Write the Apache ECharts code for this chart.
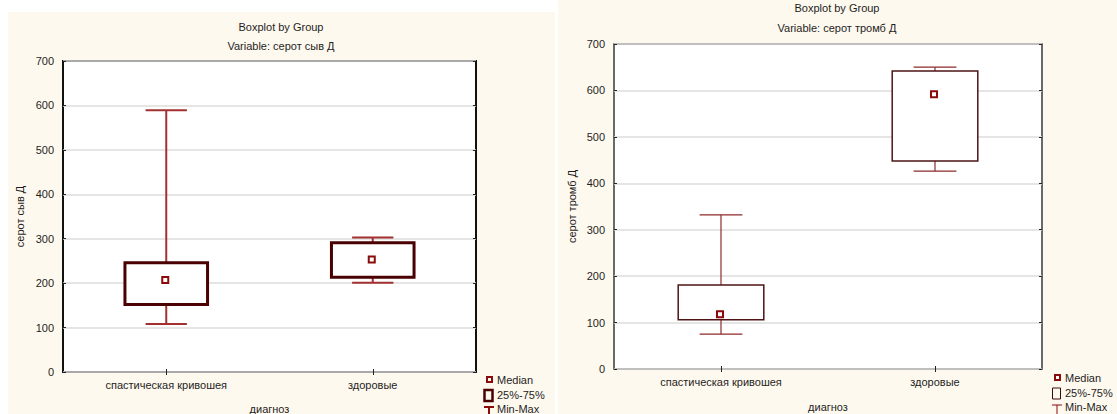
<!DOCTYPE html>
<html>
<head>
<meta charset="utf-8">
<script src="https://cdn.jsdelivr.net/npm/echarts@6/dist/echarts.min.js"></script>
<style>
  html, body { margin: 0; padding: 0; background: #ffffff; }
  #chart { width: 1117px; height: 414px; }
</style>
</head>
<body>
<div id="chart"></div>
<script>
// Groups on the x axis
const categories = ['спастическая кривошея', 'здоровые'];
const yTicks = [0, 100, 200, 300, 400, 500, 600, 700];

// серот сыв Д — min, 25%, median, 75%, max per group
const syvMin = [108, 201];
const syvQ1 = [152, 213];
const syvMedian = [207, 253];
const syvQ3 = [246, 291];
const syvMax = [589, 303];

// серот тромб Д — min, 25%, median, 75%, max per group
const trombMin = [75, 426];
const trombQ1 = [106, 448];
const trombMedian = [118, 592];
const trombQ3 = [181, 642];
const trombMax = [332, 650];

const FONT = '"Liberation Sans", Arial, sans-serif';
const TXT = '#1e1e1e';
const PANEL = '#fef9ee';

function rows(mins, q1s, meds, q3s, maxs) {
  return categories.map((c, i) => [i, mins[i], q1s[i], meds[i], q3s[i], maxs[i]]);
}

// Box = 25%-75%, whiskers = min-max, small square = median
function boxRenderer(st) {
  return function (params, api) {
    const i = api.value(0);
    const pMin = api.coord([i, api.value(1)]);
    const pQ1 = api.coord([i, api.value(2)]);
    const pMed = api.coord([i, api.value(3)]);
    const pQ3 = api.coord([i, api.value(4)]);
    const pMax = api.coord([i, api.value(5)]);
    const band = api.size([1, 0])[0];
    const bw = band * 0.4;
    const cw = band * 0.2;
    const cx = pMin[0];
    const wStyle = { stroke: st.whisker, lineWidth: st.whiskerWidth };
    const m = st.medianSize;
    return {
      type: 'group',
      children: [
        { type: 'line', shape: { x1: cx, y1: pQ3[1], x2: cx, y2: pMax[1] }, style: wStyle },
        { type: 'line', shape: { x1: cx, y1: pQ1[1], x2: cx, y2: pMin[1] }, style: wStyle },
        { type: 'line', shape: { x1: cx - cw / 2, y1: pMax[1], x2: cx + cw / 2, y2: pMax[1] }, style: wStyle },
        { type: 'line', shape: { x1: cx - cw / 2, y1: pMin[1], x2: cx + cw / 2, y2: pMin[1] }, style: wStyle },
        { type: 'rect', shape: { x: cx - bw / 2, y: pQ3[1], width: bw, height: pQ1[1] - pQ3[1] },
          style: { fill: '#ffffff', stroke: st.box, lineWidth: st.boxWidth } },
        { type: 'rect', shape: { x: cx - m / 2 - 1, y: pMed[1] - m / 2, width: m, height: m },
          style: { fill: '#ffffff', stroke: '#8b0a0a', lineWidth: 2 } }
      ]
    };
  };
}

function valueAxis(gridIndex, name, position, show, gap) {
  return {
    type: 'value', gridIndex: gridIndex, position: position,
    min: yTicks[0], max: yTicks[yTicks.length - 1], interval: 100,
    name: show ? name : '', nameLocation: 'middle', nameGap: gap, nameRotate: 90,
    nameTextStyle: { fontFamily: FONT, fontSize: 11, color: TXT },
    axisLine: { show: false },
    axisTick: { show: true, inside: true, length: 3, lineStyle: { color: '#222' } },
    axisLabel: { show: show, fontFamily: FONT, fontSize: 11, color: TXT, margin: 9 },
    splitLine: { show: show, lineStyle: { color: '#dcdcdc', width: 1.5 } }
  };
}

function categoryAxis(gridIndex, position, show, gap) {
  return {
    type: 'category', gridIndex: gridIndex, position: position, data: categories,
    boundaryGap: true,
    name: show ? 'диагноз' : '', nameLocation: 'middle', nameGap: gap,
    nameTextStyle: { fontFamily: FONT, fontSize: 11, color: TXT },
    axisLine: { show: false },
    axisTick: { show: true, inside: true, alignWithLabel: true, length: 3, lineStyle: { color: '#222' } },
    axisLabel: { show: show, fontFamily: FONT, fontSize: 11, color: TXT, margin: 7 },
    splitLine: { show: false }
  };
}

function legend(x, y, thick) {
  const red = '#8b0a0a';
  return [
    { type: 'rect', shape: { x: x + 1, y: y - 3, width: 5, height: 5 }, style: { fill: '#fff', stroke: red, lineWidth: 2 } },
    { type: 'text', style: { text: 'Median', x: x + 11, y: y, textVerticalAlign: 'middle', font: '11px ' + FONT, fill: TXT } },
    { type: 'rect', shape: { x: x - 1.5, y: y + 10, width: 8, height: 11 }, style: { fill: 'none', stroke: thick ? '#4a0000' : '#3a0a0a', lineWidth: thick ? 2.5 : 1 } },
    { type: 'text', style: { text: '25%-75%', x: x + 11, y: y + 15, textVerticalAlign: 'middle', font: '11px ' + FONT, fill: TXT } },
    { type: 'line', shape: { x1: x - 2, y1: y + 27, x2: x + 8, y2: y + 27 }, style: { stroke: red, lineWidth: thick ? 2 : 1 } },
    { type: 'line', shape: { x1: x + 3, y1: y + 27, x2: x + 3, y2: y + 40 }, style: { stroke: red, lineWidth: thick ? 2 : 1 } },
    { type: 'text', style: { text: 'Min-Max', x: x + 11, y: y + 29, textVerticalAlign: 'middle', font: '11px ' + FONT, fill: TXT } }
  ];
}

function label(text, x, y) {
  return { type: 'text', style: { text: text, x: x, y: y, textAlign: 'center', textVerticalAlign: 'middle', font: '11px ' + FONT, fill: TXT } };
}

const chart = echarts.init(document.getElementById('chart'), null, { renderer: 'svg' });

chart.setOption({
  backgroundColor: '#ffffff',
  animation: false,
  graphic: [
    { type: 'rect', z: -10, shape: { x: 8, y: 12, width: 547, height: 402 }, style: { fill: PANEL } },
    { type: 'rect', z: -10, shape: { x: 558, y: 0, width: 559, height: 414 }, style: { fill: PANEL } },
    label('Boxplot by Group', 281, 27),
    label('Variable: серот сыв Д', 281, 46),
    label('Boxplot by Group', 837, 8),
    label('Variable: серот тромб Д', 837, 28),
    ...legend(486, 380, true),
    ...legend(1054, 378, false)
  ],
  grid: [
    { left: 63, top: 61, width: 413, height: 311, containLabel: false, outerBoundsMode: 'none',
      show: true, backgroundColor: '#ffffff', borderColor: '#111111', borderWidth: 2 },
    { left: 614, top: 44, width: 428, height: 325, containLabel: false, outerBoundsMode: 'none',
      show: true, backgroundColor: '#ffffff', borderColor: '#3a3a3a', borderWidth: 1.5 }
  ],
  xAxis: [
    categoryAxis(0, 'bottom', true, 31),
    categoryAxis(1, 'bottom', true, 32),
    categoryAxis(0, 'top', false, 0),
    categoryAxis(1, 'top', false, 0)
  ],
  yAxis: [
    valueAxis(0, 'серот сыв Д', 'left', true, 38),
    valueAxis(1, 'серот тромб Д', 'left', true, 37),
    valueAxis(0, '', 'right', false, 0),
    valueAxis(1, '', 'right', false, 0)
  ],
  series: [
    {
      type: 'custom', xAxisIndex: 0, yAxisIndex: 0,
      encode: { x: 0, y: [1, 2, 3, 4, 5] },
      renderItem: boxRenderer({ whisker: '#a33030', whiskerWidth: 2, box: '#4a0000', boxWidth: 3, medianSize: 6 }),
      data: rows(syvMin, syvQ1, syvMedian, syvQ3, syvMax)
    },
    {
      type: 'custom', xAxisIndex: 1, yAxisIndex: 1,
      encode: { x: 0, y: [1, 2, 3, 4, 5] },
      renderItem: boxRenderer({ whisker: '#8e2a2a', whiskerWidth: 1.2, box: '#4e1414', boxWidth: 1.5, medianSize: 6 }),
      data: rows(trombMin, trombQ1, trombMedian, trombQ3, trombMax)
    }
  ]
});
</script>
</body>
</html>
